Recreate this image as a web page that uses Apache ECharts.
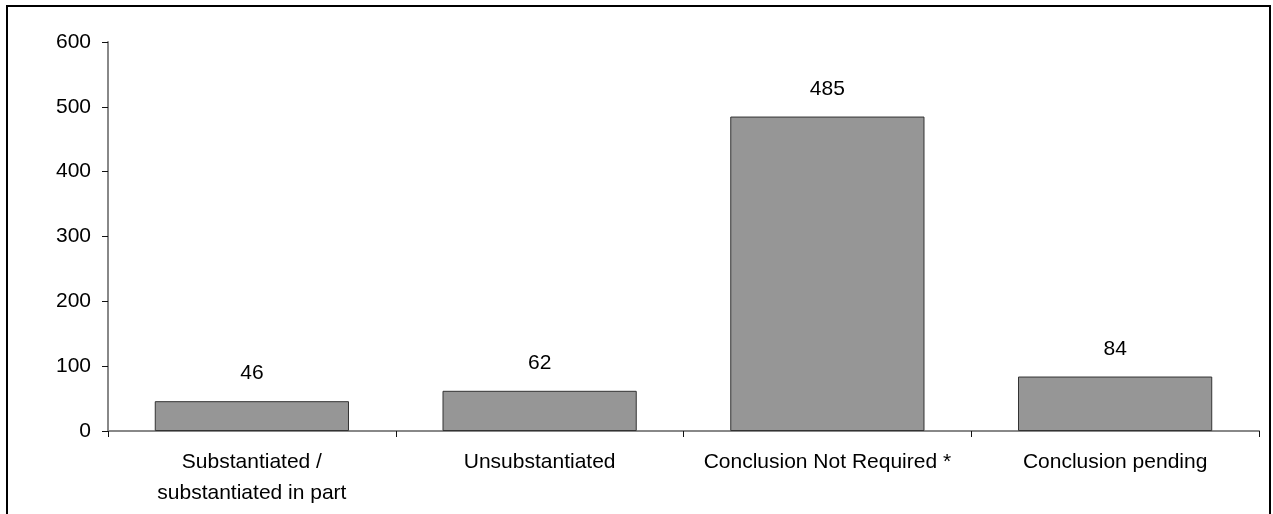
<!DOCTYPE html>
<html>
<head>
<meta charset="utf-8">
<script src="https://cdn.jsdelivr.net/npm/echarts@6/dist/echarts.min.js"></script>
<style>
html,body{margin:0;padding:0;background:#fff;}
#c{width:1273px;height:514px;}
</style>
</head>
<body>
<div id="c"></div>
<script>
const categories = ["Substantiated /\nsubstantiated in part", "Unsubstantiated", "Conclusion Not Required *", "Conclusion pending"];
const values = [46, 62, 485, 84];
const yTicks = [0, 100, 200, 300, 400, 500, 600];

const chart = echarts.init(document.getElementById('c'), null, {renderer: 'canvas'});
chart.setOption({
  animation: false,
  backgroundColor: '#ffffff',
  textStyle: {fontFamily: 'Liberation Sans, Arial, sans-serif'},
  graphic: [{
    type: 'rect',
    shape: {x: 7, y: 6, width: 1263, height: 530},
    style: {fill: 'none', stroke: '#000', lineWidth: 2},
    silent: true
  }],
  grid: {left: 108, right: 14, top: 42, bottom: 83, containLabel: false},
  xAxis: {
    type: 'category',
    data: categories,
    boundaryGap: true,
    axisLine: {show: true, lineStyle: {color: '#888888', width: 2}},
    axisTick: {show: true, length: 6, inside: false, lineStyle: {color: '#111111', width: 1}},
    axisLabel: {color: '#000', fontSize: 21, margin: 16, lineHeight: 31, interval: 0,
      fontFamily: 'Liberation Sans, Arial, sans-serif'},
    splitLine: {show: false}
  },
  yAxis: {
    type: 'value',
    min: yTicks[0],
    max: yTicks[yTicks.length - 1],
    interval: 100,
    axisLine: {show: true, lineStyle: {color: '#888888', width: 2}},
    axisTick: {show: true, length: 6, lineStyle: {color: '#111111', width: 1}},
    axisLabel: {color: '#000', fontSize: 21, margin: 17,
      fontFamily: 'Liberation Sans, Arial, sans-serif'},
    splitLine: {show: false}
  },
  series: [{
    type: 'bar',
    data: values,
    barCategoryGap: '32.5%',
    itemStyle: {color: '#969696', borderColor: '#333333', borderWidth: 1},
    label: {show: true, position: 'top', distance: 17, color: '#000', fontSize: 21,
      fontFamily: 'Liberation Sans, Arial, sans-serif'}
  }]
});
</script>
</body>
</html>
